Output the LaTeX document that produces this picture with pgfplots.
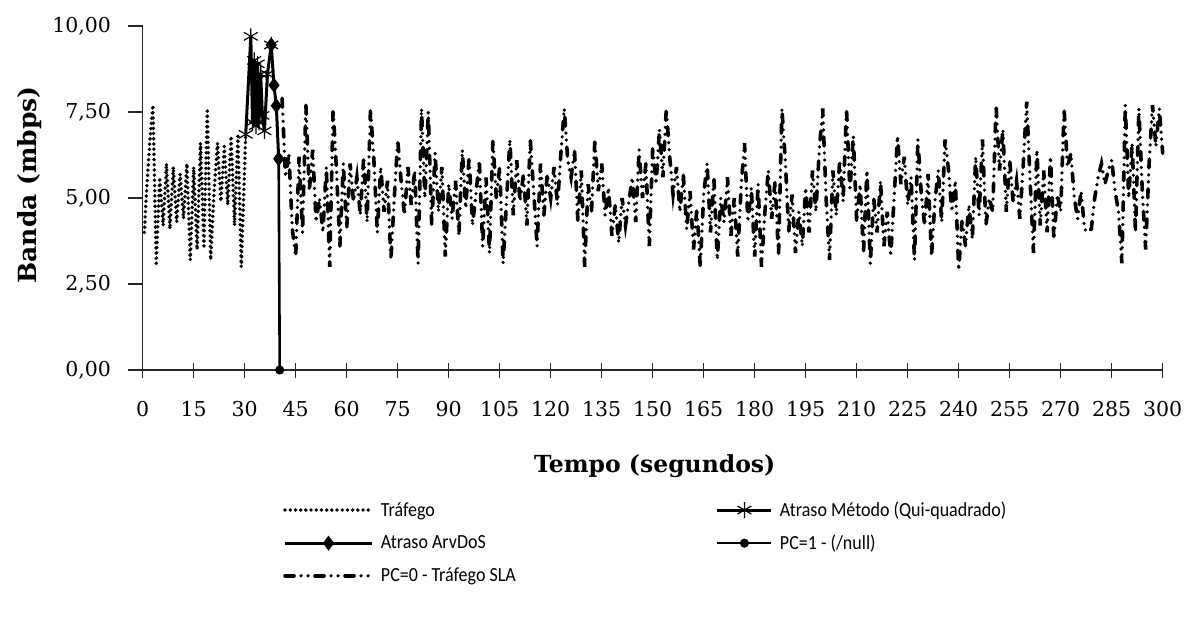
\documentclass[border=0pt]{standalone}
\usepackage{fontspec}
\setmainfont{DejaVu Serif}
\newfontfamily\legfont[FakeStretch=0.9]{Carlito}
\usepackage{pgfplots}
\pgfplotsset{compat=1.18}
\pgfplotsset{
  legA/.style={legend image code/.code={\draw[mark repeat=2,mark phase=2,##1] plot coordinates {(0pt,0pt) (43.5pt,0pt) (87pt,0pt)};}},
  legB/.style={legend image code/.code={\draw[mark repeat=2,mark phase=2,##1] plot coordinates {(0pt,0pt) (27pt,0pt) (54pt,0pt)};}},
}
\begin{document}
\begin{tikzpicture}
\begin{axis}[
  at={(0pt,0pt)}, anchor=south west,
  scale only axis, width=1020pt, height=344pt,
  xmin=0, xmax=300, ymin=0, ymax=10,
  axis lines=left, axis line style={-, line width=1.5pt, black!85},
  clip=false,
  xtick={0,15,...,300}, ytick={0,2.5,5,7.5,10},
  tick align=center, major tick length=15pt,
  tick style={line width=1.5pt, black!85},
  ytick style={xshift=-7.5pt},
  /pgf/number format/assume math mode=true,
  ticklabel style={font=\fontsize{20.5}{24}\selectfont},
  xticklabel style={anchor=center, yshift=-32pt, /pgf/number format/fixed},
  yticklabel style={anchor=east, inner sep=0pt, xshift=-24pt,
    /pgf/number format/.cd, fixed, fixed zerofill, precision=2, use comma},
  xlabel={Tempo (segundos)}, ylabel={Banda (mbps)},
  every axis x label/.style={at={(axis description cs:0.502,-0.279)}, anchor=center, font=\bfseries\fontsize{23.5}{26}\selectfont},
  every axis y label/.style={at={(axis description cs:-0.111,0.538)}, anchor=center, rotate=90, font=\bfseries\fontsize{25}{28}\selectfont},
  legend columns=2,
  legend cell align=left,
  legend style={at={(rel axis cs:0.1375,-0.383)}, anchor=north west, draw=none, fill=none, inner sep=0pt,
    nodes={inner sep=0pt, font=\legfont\fontsize{20}{22}\selectfont},
    row sep=17pt,
    /tikz/every odd column/.append style={column sep=7pt}},
]
% Trafego
\addplot[legA, black, line width=3.8pt, line cap=round, dash pattern=on 0pt off 5.2pt] coordinates {
(0.5,4.0) (1,5.0) (2,6.5) (3,7.7) (4,3.1) (5,5.6) (6,4.2) (7,6.0) (8,4.1) (9,5.9)
(10,4.3) (11,5.7) (12,4.4) (13,6.0) (14,3.2) (15,5.9) (16,3.5) (17,6.6) (18,3.6) (19,7.6)
(20,3.2) (21,5.2) (22,6.6) (23,4.9) (24,6.5) (25,4.8) (26,6.8) (27,4.2) (28,6.8) (29,3.0) (30.3,6.85)
};
\addlegendentry{\makebox[335pt][l]{Tráfego}}
% Atraso Metodo (Qui-quadrado)
\addplot[legB, black, line width=3pt, mark=asterisk, mark size=8pt, mark options={line width=1.2pt, solid}] coordinates {
(30.3,6.85) (31.8,9.7) (32.3,7.2) (32.8,9.0) (33.3,7.1) (33.8,8.9) (34.2,7.2) (34.7,8.6) (35.2,7.4) (35.8,6.95) (36.7,8.6) (37.8,9.45)
};
\addlegendentry{Atraso Método (Qui-quadrado)}
% Atraso ArvDoS
\addplot[legA, black, line width=3pt, mark=diamond*, mark size=5pt] coordinates {
(37.8,9.45) (38.6,8.28) (39.3,7.68) (40.0,6.14)
};
\addlegendentry{\makebox[335pt][l]{Atraso ArvDoS}}
% PC=1
\addplot[legB, black, line width=2.6pt, mark=*, mark size=3.2pt] coordinates {
(40.0,6.14) (40.3,0)
};
\addlegendentry{PC=1 - (/null)}
% PC=0 - Trafego SLA
\addplot[legA, black, line width=3.6pt, line cap=round, dash pattern=on 9pt off 7pt on 0pt off 7pt on 0pt off 7pt] table {
t v
41 7.9
42 5.6
43 6.3
44 4.1
45 3.3
46 6.2
47 4.0
48 7.7
49 5.2
50 6.4
51 4.3
52 5.0
53 4.0
54 5.9
55 3.0
56 7.6
57 5.8
58 3.6
59 6.0
60 4.1
61 6.0
62 4.9
63 5.6
64 4.5
65 6.2
66 4.3
67 7.6
68 6.1
69 4.0
70 5.9
71 4.6
72 5.5
73 3.2
74 5.0
75 6.7
76 5.5
77 4.5
78 5.9
79 4.8
80 5.8
81 3.1
82 7.6
83 5.0
84 7.5
85 4.2
86 6.3
87 4.6
88 5.9
89 3.3
90 5.4
91 4.4
92 5.5
93 3.9
94 6.4
95 4.7
96 6.2
97 4.2
98 5.1
99 6.1
100 3.6
101 5.6
102 3.4
103 6.7
104 5.0
105 5.9
106 3.1
107 4.9
108 6.7
109 4.5
110 6.1
111 4.9
112 5.7
113 4.2
114 6.7
115 5.2
116 3.6
117 6.0
118 4.5
119 5.7
120 5.0
121 5.9
122 4.8
123 6.3
124 7.6
125 6.1
126 5.6
127 6.4
128 4.3
129 5.8
130 3.0
131 5.4
132 4.6
133 6.7
134 5.2
135 6.0
136 4.5
137 5.3
138 3.9
139 4.8
140 3.7
141 5.0
142 4.2
143 4.9
144 5.6
145 4.3
146 6.4
147 5.0
148 6.0
149 3.6
150 6.5
151 5.4
152 7.0
153 5.6
154 7.6
155 6.2
156 5.1
157 5.9
158 4.6
159 5.7
160 4.1
161 5.2
162 3.5
163 4.7
164 3.0
165 5.1
166 6.0
167 4.0
168 5.6
169 3.2
170 5.0
171 4.3
172 5.6
173 3.9
174 5.0
175 3.3
176 5.3
177 6.6
178 4.3
179 5.3
180 3.3
181 5.4
182 3.0
183 4.6
184 5.8
185 4.4
186 5.5
187 3.3
188 7.6
189 6.1
190 4.0
191 5.1
192 3.4
193 4.6
194 3.6
195 5.3
196 4.0
197 5.8
198 4.6
199 6.4
200 7.6
201 5.0
202 3.2
203 5.8
204 4.5
205 6.1
206 4.9
207 7.6
208 5.2
209 6.8
210 4.3
211 5.4
212 3.4
213 5.8
214 3.1
215 5.0
216 4.0
217 5.5
218 3.6
219 4.6
220 3.3
221 5.0
222 6.8
223 5.4
224 6.2
225 4.8
226 5.6
227 3.2
228 6.7
229 5.1
230 4.2
231 5.7
232 3.3
233 4.9
234 5.8
235 4.3
236 6.7
237 5.8
238 4.6
239 5.5
240 2.9
241 4.4
242 3.6
243 4.8
244 3.8
245 6.2
246 4.5
247 6.7
248 4.2
249 5.0
250 4.6
251 7.7
252 5.8
253 7.0
254 4.6
255 6.1
256 4.9
257 5.5
258 4.4
259 6.0
260 7.8
261 5.5
262 3.4
263 6.4
264 4.2
265 5.8
266 4.0
267 6.2
268 3.8
269 5.1
270 4.6
271 7.6
272 5.9
273 6.3
274 5.0
275 4.4
276 5.2
277 4.1
278 4.0
279 4.1
280 5.0
281 5.6
282 6.0
283 5.4
284 5.8
285 6.1
286 5.2
287 4.6
288 3.1
289 7.7
290 5.0
291 6.6
292 4.0
293 7.6
294 5.2
295 3.5
296 6.0
297 7.7
298 6.5
299 7.6
300 6.3
};
\addlegendentry{PC=0 - Tráfego SLA}
\end{axis}
\pgfresetboundingbox
\path (-142.7pt,-251pt) rectangle (1042.3pt,370pt);
\end{tikzpicture}
\end{document}
